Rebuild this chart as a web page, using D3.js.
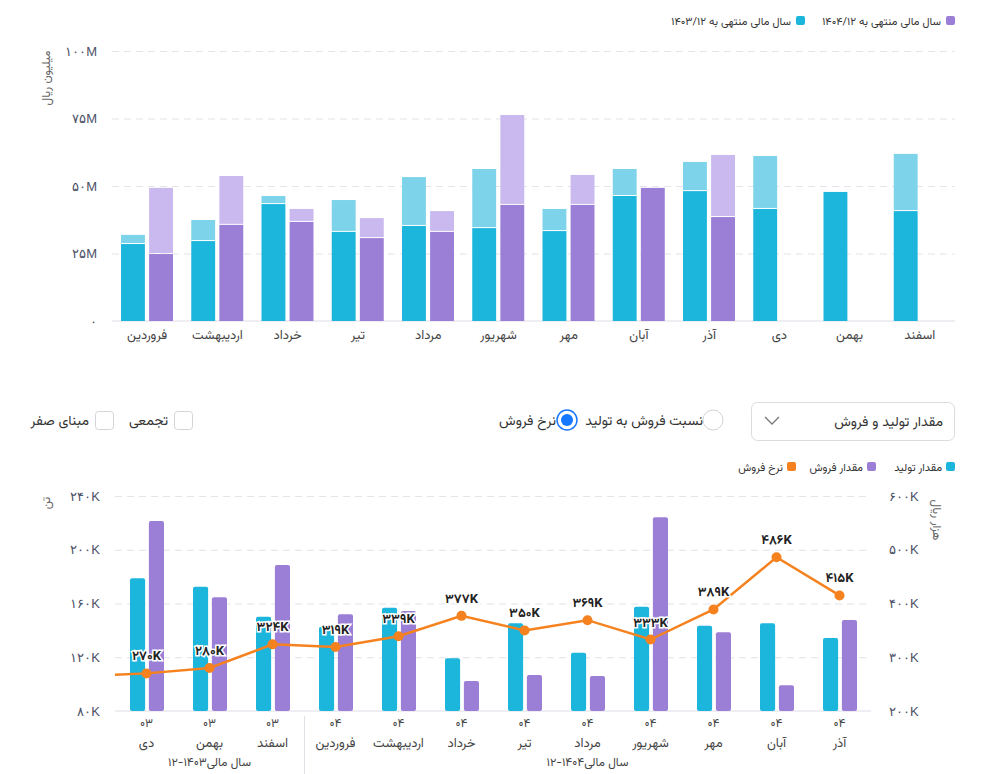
<!DOCTYPE html>
<html lang="fa">
<head>
<meta charset="utf-8">
<script src="https://cdn.jsdelivr.net/npm/d3@7"></script>
<style>
  body { margin: 0; background: #fff; }
  svg { display: block; font-family: Vazirmatn, "DejaVu Sans", "Noto Sans", sans-serif; }
  .tick text { fill: #4c5166; font-size: 13px; }
  .grid line { stroke: #e3e3e8; stroke-dasharray: 7,5; }
</style>
</head>
<body>
<svg id="chart" width="982" height="774"></svg>
<script>
// ---- top chart data (million rial) ----
const months = ['فروردین', 'اردیبهشت', 'خرداد', 'تیر', 'مرداد', 'شهریور', 'مهر', 'آبان', 'آذر', 'دی', 'بهمن', 'اسفند'];
const years = ['1403', '1404'];
const fy1403Base  = [28.5, 29.6, 43.3, 33.0, 35.2, 34.4, 33.3, 46.3, 48.1, 41.5, 47.8, 40.7];
const fy1403Extra = [3.4, 7.8, 3.0, 11.8, 18.1, 21.9, 8.2, 10.0, 10.8, 19.6, 0, 21.2];
const fy1404Base  = [24.8, 35.6, 36.7, 30.7, 33.0, 43.0, 43.0, 49.3, 38.5, null, null, null];
const fy1404Extra = [24.5, 18.1, 4.8, 7.4, 7.7, 33.3, 11.1, 0, 23.0, null, null, null];
const topTicks = [0, 25, 50, 75, 100];
const topLegend = ['سال مالی منتهی به ۱۴۰۴/۱۲', 'سال مالی منتهی به ۱۴۰۳/۱۲'];

// ---- bottom chart data ----
const periodMonths = ['دی', 'بهمن', 'اسفند', 'فروردین', 'اردیبهشت', 'خرداد', 'تیر', 'مرداد', 'شهریور', 'مهر', 'آبان', 'آذر'];
const periodYears  = ['03', '03', '03', '04', '04', '04', '04', '04', '04', '04', '04', '04'];
const production = [178.8, 172.5, 150.2, 142.7, 156.9, 119.2, 145.3, 123.4, 157.6, 143.5, 145.3, 134.3]; // thousand ton
const sales      = [221.4, 164.6, 188.7, 152.0, 154.4, 102.3, 106.8, 106.0, 224.2, 138.6, 99.1, 147.7];   // thousand ton
const saleRate   = [270, 280, 324, 319, 339, 377, 350, 369, 333, 389, 486, 415];                         // thousand rial
const prevRate   = 265; // آبان ۰۳, only its segment shows
const tonTicks  = [80, 120, 160, 200, 240];
const rateTicks = [200, 300, 400, 500, 600];
const fiscalGroups = [
  { label: 'سال مالی۱۴۰۳-۱۲', from: 0, to: 2 },
  { label: 'سال مالی۱۴۰۴-۱۲', from: 3, to: 11 }
];
const bottomLegend = ['مقدار تولید', 'مقدار فروش', 'نرخ فروش'];

const C = {
  cyan: '#1cb5dc', cyanLight: '#7dd3ea',
  purple: '#9b7fd6', purpleLight: '#c9b9ee',
  orange: '#f5821f', blue: '#1677ff'
};

const fa = s => String(s).replace(/\d/g, d => '۰۱۲۳۴۵۶۷۸۹'[d]);
const svg = d3.select('#chart');

// ================= top chart =================
const tb = { left: 112, right: 955, top: 51, bottom: 321 };
const x0 = d3.scaleBand().domain(months).range([tb.left, tb.right]);
const x1 = d3.scaleBand().domain(years).range([9, 61]).paddingInner(0.15);
const y = d3.scaleLinear().domain([0, 100]).range([tb.bottom, tb.top]);

const gTop = svg.append('g');
gTop.append('g')
    .attr('class', 'grid')
    .attr('transform', `translate(${tb.left},0)`)
    .call(d3.axisLeft(y).tickValues(topTicks).tickSize(-(tb.right - tb.left)).tickPadding(15)
      .tickFormat(d => d === 0 ? fa(0) : fa(d) + 'M'))
    .call(g => g.select('.domain').remove())
    .call(g => g.selectAll('.tick').filter(d => d === 0).select('line').remove());

gTop.append('line')
    .attr('x1', tb.left).attr('x2', tb.right)
    .attr('y1', y(0)).attr('y2', y(0))
    .attr('stroke', '#dedee6');

const topSeries = [
  { year: '1403', base: fy1403Base, extra: fy1403Extra, c: C.cyan, cl: C.cyanLight },
  { year: '1404', base: fy1404Base, extra: fy1404Extra, c: C.purple, cl: C.purpleLight }
];
topSeries.forEach(s => {
  const rows = months.map((m, i) => ({ m, b: s.base[i], e: s.extra[i] })).filter(d => d.b != null);
  const g = gTop.append('g');
  g.selectAll('rect.extra').data(rows.filter(d => d.e > 0)).join('rect')
      .attr('class', 'extra')
      .attr('x', d => x0(d.m) + x1(s.year))
      .attr('width', x1.bandwidth())
      .attr('y', d => y(d.b + d.e))
      .attr('height', d => y(d.b) - y(d.b + d.e) - 1)
      .attr('fill', s.cl);
  g.selectAll('rect.base').data(rows).join('rect')
      .attr('class', 'base')
      .attr('x', d => x0(d.m) + x1(s.year))
      .attr('width', x1.bandwidth())
      .attr('y', d => y(d.b))
      .attr('height', d => y(0) - y(d.b))
      .attr('fill', s.c);
});

gTop.append('g').selectAll('text').data(months).join('text')
    .attr('x', d => x0(d) + x0.bandwidth() / 2)
    .attr('y', 339)
    .attr('text-anchor', 'middle')
    .attr('fill', '#444')
    .attr('font-size', 13)
    .text(d => d);

gTop.append('text')
    .attr('transform', 'translate(50,78) rotate(-90)')
    .attr('text-anchor', 'middle')
    .attr('fill', '#666').attr('font-size', 12)
    .text('میلیون ریال');

// top legend (right to left)
const topLegendColors = [C.purple, C.cyan];
const topLegendRight = [955, 805];
topLegend.forEach((t, i) => {
  const r = topLegendRight[i];
  gTop.append('rect').attr('x', r - 9).attr('y', 16).attr('width', 9).attr('height', 9).attr('rx', 2)
      .attr('fill', topLegendColors[i]);
  gTop.append('text').attr('x', r - 14).attr('y', 24.5)
      .attr('direction', 'rtl').attr('text-anchor', 'start')
      .attr('fill', '#333').attr('font-size', 11)
      .text(t);
});

// ================= controls =================
const ctl = svg.append('g').attr('font-size', 14).attr('fill', '#333');
ctl.append('rect').attr('x', 751.5).attr('y', 402.5).attr('width', 203).attr('height', 38).attr('rx', 6)
    .attr('fill', '#fff').attr('stroke', '#dcdce0');
ctl.append('text').attr('x', 943).attr('y', 426).attr('direction', 'rtl').attr('text-anchor', 'start')
    .text('مقدار تولید و فروش');
ctl.append('path').attr('d', 'M765,417 L772,424 L779,417').attr('fill', 'none').attr('stroke', '#777').attr('stroke-width', 1.3);

ctl.append('circle').attr('cx', 713).attr('cy', 420).attr('r', 10).attr('fill', '#fff').attr('stroke', '#d4d4d8');
ctl.append('text').attr('x', 703).attr('y', 425).attr('direction', 'rtl').attr('text-anchor', 'start').text('نسبت فروش به تولید');
ctl.append('circle').attr('cx', 567).attr('cy', 420).attr('r', 10).attr('fill', '#fff').attr('stroke', C.blue).attr('stroke-width', 1.5);
ctl.append('circle').attr('cx', 567).attr('cy', 420).attr('r', 6).attr('fill', C.blue);
ctl.append('text').attr('x', 556).attr('y', 425).attr('direction', 'rtl').attr('text-anchor', 'start').text('نرخ فروش');

[[174, 'تجمعی'], [95, 'مبنای صفر']].forEach(([bx, t]) => {
  ctl.append('rect').attr('x', bx + 0.5).attr('y', 411.5).attr('width', 18).attr('height', 18).attr('rx', 3)
      .attr('fill', '#fff').attr('stroke', '#d4d4d8');
  ctl.append('text').attr('x', bx - 6).attr('y', 425).attr('direction', 'rtl').attr('text-anchor', 'start').text(t);
});

// ================= bottom chart =================
const bot = { left: 115, right: 871, top: 496, bottom: 711 };
const keys = periodMonths.map((m, i) => i);
const bx0 = d3.scaleBand().domain(keys).range([bot.left, bot.right]);
const bx1 = d3.scaleBand().domain(['prod', 'sale']).range([15, 49]).paddingInner(0.2);
const yTon = d3.scaleLinear().domain([80, 240]).range([bot.bottom, bot.top]);
const yRate = d3.scaleLinear().domain([200, 600]).range([bot.bottom, bot.top]);

const gBot = svg.append('g');
gBot.append('g')
    .attr('class', 'grid')
    .attr('transform', `translate(${bot.left},0)`)
    .call(d3.axisLeft(yTon).tickValues(tonTicks).tickSize(-(bot.right - bot.left)).tickPadding(15)
      .tickFormat(d => fa(d) + 'K'))
    .call(g => g.select('.domain').remove())
    .call(g => g.selectAll('.tick').filter(d => d === 80).select('line').remove());

gBot.append('g')
    .attr('transform', `translate(${bot.right},0)`)
    .call(d3.axisRight(yRate).tickValues(rateTicks).tickSize(0).tickPadding(18)
      .tickFormat(d => fa(d) + 'K'))
    .call(g => g.select('.domain').remove());

gBot.append('line')
    .attr('x1', bot.left).attr('x2', bot.right)
    .attr('y1', bot.bottom).attr('y2', bot.bottom)
    .attr('stroke', '#dedee6');

const barRows = keys.map(i => ({ i, prod: production[i], sale: sales[i] }));
[['prod', C.cyan], ['sale', C.purple]].forEach(([k, col]) => {
  gBot.append('g').selectAll('rect').data(barRows).join('rect')
      .attr('x', d => bx0(d.i) + bx1(k))
      .attr('width', bx1.bandwidth())
      .attr('y', d => yTon(d[k]))
      .attr('height', d => yTon(80) - yTon(d[k]))
      .attr('rx', 2)
      .attr('fill', col);
});

// rate line; the previous month sits one step left and is clipped away
const cx = i => bx0(i) + bx0.bandwidth() / 2;
svg.append('clipPath').attr('id', 'plotClip')
    .append('rect').attr('x', bot.left).attr('y', bot.top - 40).attr('width', bot.right - bot.left).attr('height', 260);
const linePts = [{ x: cx(0) - bx0.step(), v: prevRate }].concat(saleRate.map((v, i) => ({ x: cx(i), v })));
gBot.append('path')
    .datum(linePts)
    .attr('clip-path', 'url(#plotClip)')
    .attr('fill', 'none')
    .attr('stroke', C.orange)
    .attr('stroke-width', 2.5)
    .attr('d', d3.line().x(d => d.x).y(d => yRate(d.v)));
gBot.append('g').selectAll('circle').data(saleRate).join('circle')
    .attr('cx', (d, i) => cx(i))
    .attr('cy', d => yRate(d))
    .attr('r', 5)
    .attr('fill', C.orange);
gBot.append('g').selectAll('text').data(saleRate).join('text')
    .attr('x', (d, i) => cx(i))
    .attr('y', d => yRate(d) - 13)
    .attr('text-anchor', 'middle')
    .attr('font-size', 13).attr('font-weight', 'bold')
    .attr('fill', '#222').attr('stroke', '#fff').attr('stroke-width', 3)
    .attr('paint-order', 'stroke')
    .text(d => fa(d) + 'K');

// x labels
gBot.append('g').selectAll('text').data(keys).join('text')
    .attr('x', d => cx(d)).attr('y', 727)
    .attr('text-anchor', 'middle').attr('fill', '#444').attr('font-size', 12)
    .text(d => fa(periodYears[d]));
gBot.append('g').selectAll('text').data(keys).join('text')
    .attr('x', d => cx(d)).attr('y', 747)
    .attr('text-anchor', 'middle').attr('fill', '#444').attr('font-size', 13)
    .text(d => periodMonths[d]);
gBot.append('g').selectAll('text').data(fiscalGroups).join('text')
    .attr('x', d => (bx0(d.from) + bx0(d.to) + bx0.bandwidth()) / 2).attr('y', 766)
    .attr('direction', 'rtl')
    .attr('text-anchor', 'middle').attr('fill', '#444').attr('font-size', 12)
    .text(d => d.label);
gBot.append('line')
    .attr('x1', bx0(3) + 0.5).attr('x2', bx0(3) + 0.5)
    .attr('y1', 716).attr('y2', 774)
    .attr('stroke', '#e0e0e6');

gBot.append('text')
    .attr('transform', 'translate(50,503) rotate(-90)')
    .attr('text-anchor', 'middle').attr('fill', '#666').attr('font-size', 12)
    .text('تن');
gBot.append('text')
    .attr('transform', 'translate(933,520) rotate(90)')
    .attr('text-anchor', 'middle').attr('fill', '#666').attr('font-size', 12)
    .text('هزار ریال');

// bottom legend
const botLegendColors = [C.cyan, C.purple, C.orange];
const botLegendRight = [955, 876, 796];
bottomLegend.forEach((t, i) => {
  const r = botLegendRight[i];
  gBot.append('rect').attr('x', r - 9).attr('y', 462).attr('width', 9).attr('height', 9).attr('rx', 2)
      .attr('fill', botLegendColors[i]);
  gBot.append('text').attr('x', r - 13).attr('y', 470.5)
      .attr('direction', 'rtl').attr('text-anchor', 'start')
      .attr('fill', '#333').attr('font-size', 11)
      .text(t);
});
</script>
</body>
</html>
